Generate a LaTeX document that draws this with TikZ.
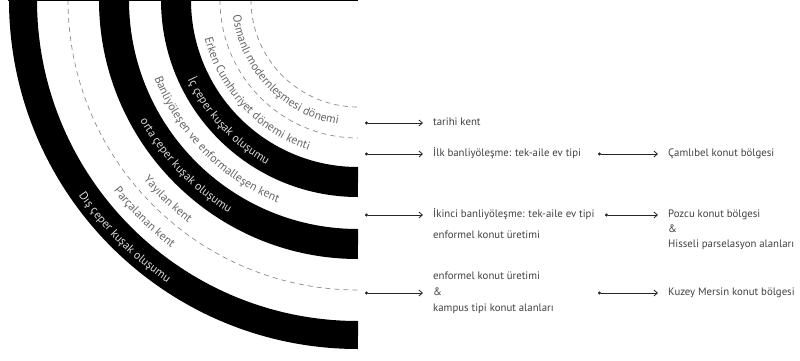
\documentclass[tikz,border=0pt]{standalone}
\usepackage{fontspec}
\setmainfont{PT Sans}
\usepackage{tikz}
\usetikzlibrary{arrows.meta,positioning,decorations.text}
\newcommand{\ringfont}{\fontsize{11.8}{13}\selectfont}
\tikzset{
    %Define standard arrow tip
    >={Straight Barb[length=3.5pt,width=6pt]},
    %Define style for the black rings
    ring/.style={
           draw=black,
           line width=30pt},
    %Define style for the dashed rings
    border/.style={
           draw=black!45,
           line width=0.7pt,
           dash pattern=on 5pt off 4pt},
    %Define style for the texts on the right
    note/.style={
           anchor=west,
           inner sep=2pt,
           text height=8pt,
           text depth=2.5pt,
           font=\fontsize{10.8}{12}\selectfont,
           text=black!75},
    % Define arrow style
    pil/.style={
           {Circle[length=3pt]}->,
           line width=0.8pt,
           draw=black!85,
           shorten >=8pt},
    % Define style for texts along the rings
    onwhite/.style={
           decorate,
           decoration={text along path, text color=black!60, text={|\ringfont|#1}}},
    onblack/.style={
           decorate,
           decoration={text along path, text color=white!85!black, text={|\ringfont|#1}}}
}
\begin{document}
\begin{tikzpicture}[x=1pt,y=1pt]
\useasboundingbox (0,0) rectangle (800,360);
\coordinate (O) at (358,360);
% black rings
\draw[ring] (O) ++(180:182pt) arc[start angle=180, end angle=270, radius=182pt];
\draw[ring] (O) ++(180:244pt) arc[start angle=180, end angle=270, radius=244pt];
\draw[ring, line width=28pt] (O) ++(180:335pt) arc[start angle=180, end angle=270, radius=335pt];
% dashed rings
\draw[border] (O) ++(180:107pt) arc[start angle=180, end angle=270, radius=107pt];
\draw[border] (O) ++(180:138pt) arc[start angle=180, end angle=270, radius=138pt];
\draw[border] (O) ++(180:290pt) arc[start angle=180, end angle=270, radius=290pt];
% top line
\draw[line width=1.2pt] (8,359.4) -- (358,359.4);
% texts along the rings
\path[onwhite={Osmanlı modernleşmesi dönemi}] (O) ++(187:126pt) arc[start angle=187, end angle=270, radius=126pt];
\path[onwhite={Erken Cumhuriyet dönemi kenti}] (O) ++(194:158pt) arc[start angle=194, end angle=270, radius=158pt];
\path[onblack={İç çeper kuşak oluşumu}] (O) ++(205:188pt) arc[start angle=205, end angle=270, radius=188pt];
\path[onwhite={Banliyöleşen ve enformalleşen kent}] (O) ++(201:218pt) arc[start angle=201, end angle=270, radius=218pt];
\path[onblack={orta çeper kuşak oluşumu}] (O) ++(209:249pt) arc[start angle=209, end angle=270, radius=249pt];
\path[onwhite={Yayılan kent}] (O) ++(220:280pt) arc[start angle=220, end angle=270, radius=280pt];
\path[onwhite={Parçalanan kent}] (O) ++(218:310pt) arc[start angle=218, end angle=270, radius=310pt];
\path[onblack={Dış çeper kuşak oluşumu}] (O) ++(215:341pt) arc[start angle=215, end angle=270, radius=341pt];
% texts on the right
\node[note] (tarihi) at (431,237) {tarihi kent};
\node[note] (ilk) at (431,206) {İlk banliyöleşme: tek-aile ev tipi};
\node[note] (ikinci) at (431,145) {İkinci banliyöleşme: tek-aile ev tipi};
\node[note] (enfA) at ([yshift=-21pt]ikinci.west) {enformel konut üretimi};
\node[note] (ampB) at (431,67) {\&};
\node[note] (enfB) at ([yshift=16pt]ampB.west) {enformel konut üretimi};
\node[note] (kampus) at ([yshift=-16pt]ampB.west) {kampus tipi konut alanları};
\node[note] (camlibel) at (666,206) {Çamlıbel konut bölgesi};
\node[note] (pozcu) at (666,145) {Pozcu konut bölgesi};
\node[note] (ampA) at ([yshift=-15pt]pozcu.west) {\&};
\node[note] (hisseli) at ([yshift=-15pt]ampA.west) {Hisseli parselasyon alanları};
\node[note] (kuzey) at (666,67) {Kuzey Mersin konut bölgesi};
% arrow tails
\coordinate (t1) at (365,237);
\coordinate (t2) at (365,206);
\coordinate (t3) at (365,145);
\coordinate (t4) at (365,67);
\coordinate (m2) at (598,206);
\coordinate (m3) at (605,145);
\coordinate (m4) at (598,67);
\draw[pil] (t1) -- (tarihi.west);
\draw[pil] (t2) -- (ilk.west);
\draw[pil] (t3) -- (ikinci.west);
\draw[pil] (t4) -- (ampB.west);
\draw[pil] (m2) -- (camlibel.west);
\draw[pil] (m3) -- (pozcu.west);
\draw[pil] (m4) -- (kuzey.west);
\end{tikzpicture}
\end{document}
